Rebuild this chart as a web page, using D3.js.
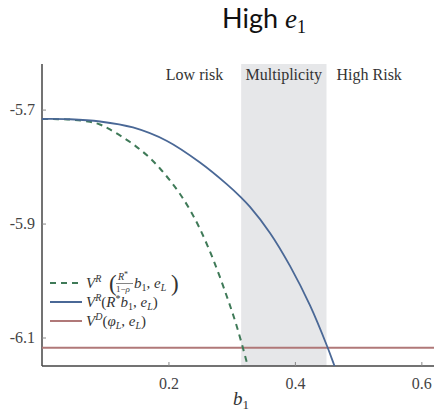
<!DOCTYPE html>
<html><head><meta charset="utf-8">
<script src="https://cdn.jsdelivr.net/npm/d3@7"></script>
<style>
body{margin:0;background:#fff}
svg text.s, svg tspan.s{font-family:"Liberation Serif", "Times New Roman", serif}
svg tspan.ss{font-family:Lato, "Open Sans", sans-serif}
</style>
</head><body><svg id="c" width="434" height="412"></svg>
<script>
// Value of repayment vs. default as a function of b1
const xTicks = [0.2, 0.4, 0.6];
const yTicks = [-5.7, -5.9, -6.1];
const bRepayStar = [0, 0.0443, 0.0917, 0.1439, 0.1977, 0.2499, 0.2926, 0.3147, 0.3290, 0.3606, 0.3922, 0.4239, 0.4508, 0.4618, 0.4713];
const vRepayStar = [-5.7165, -5.7170, -5.7209, -5.7314, -5.7551, -5.7929, -5.8313, -5.8541, -5.8708, -5.9164, -5.9743, -6.0438, -6.1149, -6.1474, -6.1763];
const bRepayRho = [0, 0.0443, 0.0759, 0.0917, 0.1075, 0.1392, 0.1550, 0.1708, 0.1866, 0.2024, 0.2183, 0.2341, 0.2499, 0.2705, 0.2921, 0.3079, 0.3238, 0.3321];
const vRepayRho = [-5.7165, -5.7176, -5.7214, -5.7262, -5.7349, -5.7569, -5.7700, -5.7850, -5.8034, -5.8244, -5.8481, -5.8762, -5.9096, -5.9622, -6.0271, -6.0798, -6.1430, -6.1781];
const vDefault = -6.118;
const multiplicity = [0.315, 0.45];
const regionLabels = ["Low risk", "Multiplicity", "High Risk"];

const svg = d3.select("#c");
const L = 42, R = 434, T = 64, B = 366;
const x = d3.scaleLinear().domain([0, 0.62]).range([L, R]);
const y = d3.scaleLinear().domain([-6.15, -5.62]).range([B, T]);
const ink = "#333";

svg.append("defs").append("clipPath").attr("id", "plot")
  .append("rect").attr("x", L).attr("y", T).attr("width", R - L).attr("height", B - T);

// shaded multiplicity band
svg.append("rect").attr("x", x(multiplicity[0])).attr("y", T)
  .attr("width", x(multiplicity[1]) - x(multiplicity[0])).attr("height", B - T)
  .attr("fill", "#e6e7e9");

// title
const title = svg.append("text").attr("x", 222).attr("y", 28).attr("fill", "#111");
title.append("tspan").attr("class", "ss").attr("font-size", 27).text("High ");
title.append("tspan").attr("class", "s").attr("font-style", "italic").attr("font-size", 27).text("e");
title.append("tspan").attr("class", "s").attr("font-size", 18).attr("dy", 5).text("1");

// region labels
const rl = svg.append("g").attr("font-size", 16).attr("fill", ink);
rl.append("text").attr("class", "s").attr("x", x(multiplicity[0]) - 18).attr("y", 80).attr("text-anchor", "end").text(regionLabels[0]);
rl.append("text").attr("class", "s").attr("x", (x(multiplicity[0]) + x(multiplicity[1])) / 2).attr("y", 80).attr("text-anchor", "middle").text(regionLabels[1]);
rl.append("text").attr("class", "s").attr("x", x(multiplicity[1]) + 10).attr("y", 80).attr("text-anchor", "start").text(regionLabels[2]);

// axes
const xAxis = d3.axisBottom(x).tickValues(xTicks).tickSizeInner(-4).tickSizeOuter(0).tickPadding(12).tickFormat(d3.format(".1f"));
const gx = svg.append("g").attr("transform", `translate(0,${B})`).call(xAxis);
const yAxis = d3.axisLeft(y).tickValues(yTicks).tickSizeInner(-4).tickSizeOuter(0).tickPadding(7).tickFormat(d3.format(".1f"));
const gy = svg.append("g").attr("transform", `translate(${L},0)`).call(yAxis);
[gx, gy].forEach(g => {
  g.attr("font-family", null).attr("font-size", 16);
  g.select(".domain").attr("stroke", "#444").attr("stroke-width", 1.5);
  g.selectAll(".tick line").attr("stroke", "#888");
  g.selectAll(".tick text").attr("class", "s").attr("font-size", 16).attr("fill", "#444");
});
gy.selectAll(".tick text").text(d => d3.format(".1f")(d).replace("−", "-"));
gy.select(".domain").attr("d", `M0,${B}V${T}`);
gx.select(".domain").attr("d", `M${L},0H${R}`);

// curves
const plot = svg.append("g").attr("clip-path", "url(#plot)");
const line = d3.line().x(d => x(d[0])).y(d => y(d[1])).curve(d3.curveCatmullRom.alpha(0.5));
plot.append("line").attr("x1", L).attr("x2", R).attr("y1", y(vDefault)).attr("y2", y(vDefault))
  .attr("stroke", "#b07878").attr("stroke-width", 2);
plot.append("path").datum(d3.zip(bRepayRho, vRepayRho)).attr("d", line)
  .attr("fill", "none").attr("stroke", "#3f7a58").attr("stroke-width", 2).attr("stroke-dasharray", "6,5");
plot.append("path").datum(d3.zip(bRepayStar, vRepayStar)).attr("d", line)
  .attr("fill", "none").attr("stroke", "#4a6896").attr("stroke-width", 1.8);

// x label
const xl = svg.append("text").attr("class", "s").attr("x", 233).attr("y", 405).attr("fill", ink);
xl.append("tspan").attr("font-style", "italic").attr("font-size", 19).text("b");
xl.append("tspan").attr("font-size", 13).attr("dy", 4).text("1");

// legend
const lg = svg.append("g").attr("fill", ink);
const rows = [
  {y: 283, color: "#3f7a58", dash: "6,5"},
  {y: 302, color: "#4a6896", dash: null},
  {y: 321, color: "#b07878", dash: null}
];
rows.forEach(r => {
  lg.append("line").attr("x1", 50).attr("x2", 82).attr("y1", r.y).attr("y2", r.y)
    .attr("stroke", r.color).attr("stroke-width", 2).attr("stroke-dasharray", r.dash);
});
function math(parent, xPos, yPos, parts) {
  const t = parent.append("text").attr("class", "s").attr("x", xPos).attr("y", yPos);
  parts.forEach(p => {
    const s = t.append("tspan").attr("font-size", p.s || 15).text(p.t);
    if (p.i) s.attr("font-style", "italic");
    if (p.dy) s.attr("dy", p.dy);
    if (p.dx) s.attr("dx", p.dx);
  });
  return t;
}
// row 1: V^R( R*/(1-rho) b1, eL )
math(lg, 86, 288, [{t: "V", i: 1}, {t: "R", i: 1, s: 10, dy: -6}]);
math(lg, 109, 291, [{t: "(", s: 23}]);
math(lg, 118, 280, [{t: "R", i: 1, s: 10}, {t: "*", s: 8, dy: -3}]);
lg.append("line").attr("x1", 116).attr("x2", 133).attr("y1", 283.5).attr("y2", 283.5).attr("stroke", ink).attr("stroke-width", 0.6);
math(lg, 116, 292, [{t: "1−", s: 9}, {t: "ρ", i: 1, s: 9}]);
math(lg, 134, 288, [{t: "b", i: 1}, {t: "1", s: 10, dy: 3}, {t: ", ", dy: -3}, {t: "e", i: 1}, {t: "L", i: 1, s: 10, dy: 3}]);
math(lg, 171, 291, [{t: ")", s: 23}]);
// row 2: V^R(R* b1, eL)
math(lg, 86, 307, [{t: "V", i: 1}, {t: "R", i: 1, s: 10, dy: -6}, {t: "(", dy: 6}, {t: "R", i: 1}, {t: "*", s: 10, dy: -5}, {t: "b", i: 1, dy: 5}, {t: "1", s: 10, dy: 3}, {t: ", ", dy: -3}, {t: "e", i: 1}, {t: "L", i: 1, s: 10, dy: 3}, {t: ")", dy: -3}]);
// row 3: V^D(phi_L, eL)
math(lg, 86, 326, [{t: "V", i: 1}, {t: "D", i: 1, s: 10, dy: -6}, {t: "(", dy: 6}, {t: "φ", i: 1}, {t: "L", i: 1, s: 10, dy: 3}, {t: ", ", dy: -3}, {t: "e", i: 1}, {t: "L", i: 1, s: 10, dy: 3}, {t: ")", dy: -3}]);
</script></body></html>
